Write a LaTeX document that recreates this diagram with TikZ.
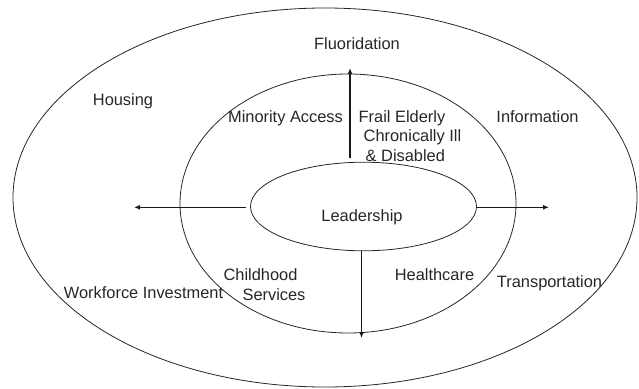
\documentclass[tikz,border=0pt]{standalone}
\usepackage{fontspec}
\setmainfont{Liberation Sans}
\usetikzlibrary{arrows.meta,shapes.geometric}

\begin{document}
\begin{tikzpicture}[x=1pt,y=-1pt,
    ring/.style={draw=black!85, line width=0.8pt},
    flow/.style={draw=black!90, line width=1.6pt, -{Latex[length=6pt,width=5pt]}},
    lbl/.style={text=black!85, font=\fontsize{16.4}{19.5}\selectfont, inner sep=0pt, anchor=base}]

        % 1. VARIABLES
        \def\W{639}  % width of the page
        \def\H{388}  % height of the page

        \useasboundingbox (0,0) rectangle (\W,\H);

        % ==========================================
        % 2. RINGS
        % ==========================================
        \draw[ring] (325,197.5) ellipse [x radius=312, y radius=189.5];
        \draw[ring] (348,203.5) ellipse [x radius=168, y radius=129.5];
        \node[ring, ellipse, inner sep=0pt, minimum width=226pt, minimum height=88.6pt] (lead) at (363.5,206.5) {};

        % ==========================================
        % 3. ARROWS OUT OF THE CENTRE
        % ==========================================
        \coordinate (upEnd)    at (350,68);
        \coordinate (downEnd)  at (361.5,338);
        \coordinate (leftEnd)  at (134,207.3);
        \coordinate (rightEnd) at (549,207.3);

        \draw[flow] ([xshift=-13.5pt,yshift=4pt]lead.north) -- (upEnd);
        \draw[flow] ([xshift=-2pt]lead.south) -- (downEnd);
        \draw[flow] ([xshift=-4pt,yshift=-0.8pt]lead.west) -- (leftEnd);
        \draw[flow] ([yshift=-0.8pt]lead.east) -- (rightEnd);

        % ==========================================
        % 4. LABELS (placed on their baselines)
        % ==========================================
        \node[lbl] (leadText)  at (362,221) {Leadership};

        % inner ring
        \node[lbl] (minority)  at (285.5,122) {Minority Access};
        % base of a multi-line node = baseline of its last line
        \node[lbl, anchor=base west, align=left] (frail) at (358.5,161)
            {Frail Elderly\\\hspace*{5pt}Chronically Ill\\\hspace*{7pt}\& Disabled};
        \node[lbl] (childhood) at (260.5,280.5) {Childhood};
        \node[lbl] (services)  at (274,300)   {Services};
        \node[lbl] (health)    at (434.5,280.5) {Healthcare};

        % outer ring
        \node[lbl] (fluor)     at (357,49.5)  {Fluoridation};
        \node[lbl] (housing)   at (123,105)   {Housing};
        \node[lbl] (info)      at (537.5,122) {Information};
        \node[lbl] (workforce) at (143.5,298) {Workforce Investment};
        \node[lbl] (transport) at (549.5,287) {Transportation};

    \end{tikzpicture}
\end{document}
